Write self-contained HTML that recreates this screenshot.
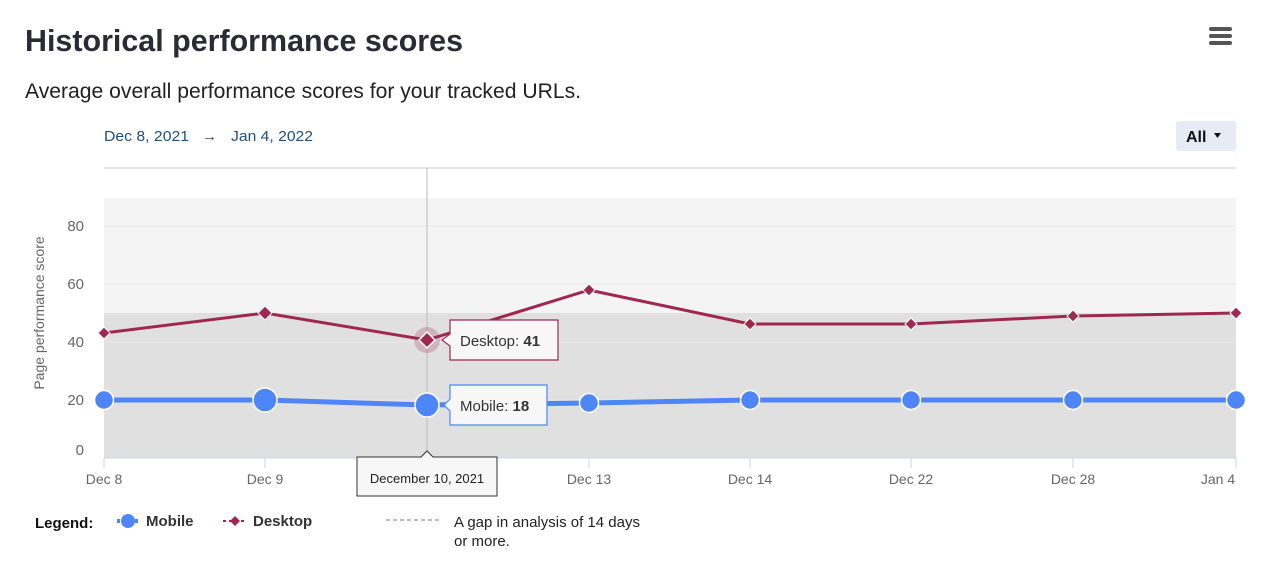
<!DOCTYPE html>
<html><head><meta charset="utf-8"><style>
body{margin:0;background:#fff;}
svg{display:block;font-family:"Liberation Sans",sans-serif;}
</style></head><body>
<svg width="1264" height="586" viewBox="0 0 1264 586" xmlns="http://www.w3.org/2000/svg">
<text x="25" y="51" font-size="31" font-weight="bold" fill="#2a2b35" textLength="438" lengthAdjust="spacingAndGlyphs">Historical performance scores</text>
<text x="25" y="98" font-size="21" fill="#222" textLength="556" lengthAdjust="spacingAndGlyphs">Average overall performance scores for your tracked URLs.</text>
<g fill="#555"><rect x="1209" y="27" width="23" height="4" rx="2"/><rect x="1209" y="34" width="23" height="4" rx="2"/><rect x="1209" y="41" width="23" height="4" rx="2"/></g>
<text x="104" y="141" font-size="15" fill="#1f4e82" textLength="85" lengthAdjust="spacingAndGlyphs">Dec 8, 2021</text>
<text x="202" y="141" font-size="15" fill="#444">→</text>
<text x="231" y="141" font-size="15" fill="#1f4e82" textLength="82" lengthAdjust="spacingAndGlyphs">Jan 4, 2022</text>
<rect x="1176" y="121" width="60" height="30" rx="3" fill="#e6ebf5"/>
<text x="1186" y="142" font-size="16" font-weight="bold" fill="#111">All</text>
<path d="M1214 133h7l-3.5 5z" fill="#111"/>
<!-- plot -->
<line x1="104" y1="168" x2="1236" y2="168" stroke="#e6e6e6" stroke-width="2"/>
<rect x="104" y="198" width="1132" height="115" fill="#f4f4f4"/>
<rect x="104" y="313" width="1132" height="145" fill="#e0e0e0"/>
<g stroke="#e8e8e8" stroke-width="1">
<line x1="104" y1="226" x2="1236" y2="226"/><line x1="104" y1="284" x2="1236" y2="284"/>
<line x1="104" y1="342" x2="1236" y2="342" stroke="#eaeaea"/><line x1="104" y1="400" x2="1236" y2="400" stroke="#eaeaea"/>
</g>
<line x1="104" y1="458" x2="1236" y2="458" stroke="#ccd6eb"/>
<g stroke="#ccd6eb"><line x1="104" y1="458" x2="104" y2="468"/><line x1="265" y1="458" x2="265" y2="468"/><line x1="589" y1="458" x2="589" y2="468"/><line x1="750" y1="458" x2="750" y2="468"/><line x1="911" y1="458" x2="911" y2="468"/><line x1="1073" y1="458" x2="1073" y2="468"/><line x1="1236" y1="458" x2="1236" y2="468"/></g>
<g font-size="15" fill="#666" text-anchor="end">
<text x="84" y="231">80</text><text x="84" y="289">60</text><text x="84" y="347">40</text><text x="84" y="405">20</text><text x="84" y="455">0</text>
</g>
<text transform="translate(44,313) rotate(-90)" font-size="14" fill="#666" text-anchor="middle">Page performance score</text>
<g font-size="14" fill="#666" text-anchor="middle">
<text x="104" y="484">Dec 8</text><text x="265" y="484">Dec 9</text><text x="589" y="484">Dec 13</text><text x="750" y="484">Dec 14</text><text x="911" y="484">Dec 22</text><text x="1073" y="484">Dec 28</text><text x="1218" y="484">Jan 4</text>
</g>
<line x1="427" y1="168" x2="427" y2="458" stroke="#bbb" stroke-width="1"/>
<!-- desktop -->
<polyline points="104,333 265,313 427,340 589,290 750,324 911,324 1073,316 1236,313" fill="none" stroke="#a0284f" stroke-width="3"/>
<g fill="#a0284f" stroke="#fff" stroke-width="1">
<path d="M104 327l6 6-6 6-6-6z"/><path d="M265 306l7 7-7 7-7-7z"/><path d="M589 284l6 6-6 6-6-6z"/><path d="M750 318l6 6-6 6-6-6z"/><path d="M911 318l6 6-6 6-6-6z"/><path d="M1073 310l6 6-6 6-6-6z"/><path d="M1236 307l6 6-6 6-6-6z"/>
</g>
<circle cx="427" cy="340" r="13" fill="#a0284f" opacity="0.25"/>
<path d="M427 332l8 8-8 8-8-8z" fill="#a0284f" stroke="#fff" stroke-width="1.5"/>
<!-- mobile -->
<polyline points="104,400 265,400 427,405 589,403 750,400 911,400 1073,400 1236,400" fill="none" stroke="#4f86f7" stroke-width="5"/>
<g fill="#4f86f7" stroke="#fff" stroke-width="1.5">
<circle cx="104" cy="400" r="9.5"/><circle cx="265" cy="400" r="12"/><circle cx="427" cy="405" r="12"/><circle cx="589" cy="403" r="9.5"/><circle cx="750" cy="400" r="9.5"/><circle cx="911" cy="400" r="9.5"/><circle cx="1073" cy="400" r="9.5"/><circle cx="1236" cy="400" r="9.5"/>
</g>
<!-- tooltips -->
<path d="M450 320h108v40h-108v-14l-8-6 8-6z" fill="#f7f7f7" stroke="#a0284f" stroke-width="1.2"/>
<text x="460" y="346" font-size="15" fill="#333">Desktop: <tspan font-weight="bold">41</tspan></text>
<path d="M450 385h97v40h-97v-14l-6-6 6-6z" fill="#f7f7f7" stroke="#4f86f7" stroke-width="1.2"/>
<text x="460" y="411" font-size="15" fill="#333">Mobile: <tspan font-weight="bold">18</tspan></text>
<path d="M357 457h64l6-6 6 6h64v39h-140z" fill="#f7f7f7" stroke="#333" stroke-width="1"/>
<text x="427" y="483" font-size="13" fill="#222" text-anchor="middle">December 10, 2021</text>
<!-- legend -->
<text x="35" y="528" font-size="15" font-weight="bold" fill="#111">Legend:</text>
<line x1="117" y1="521" x2="139" y2="521" stroke="#4f86f7" stroke-width="4" stroke-dasharray="3,3"/>
<circle cx="128" cy="521" r="7" fill="#4f86f7"/>
<text x="146" y="526" font-size="15" font-weight="bold" fill="#333">Mobile</text>
<line x1="223" y1="521" x2="246" y2="521" stroke="#a0284f" stroke-width="2" stroke-dasharray="3,3"/>
<path d="M235 516l5 5-5 5-5-5z" fill="#a0284f"/>
<text x="253" y="526" font-size="15" font-weight="bold" fill="#333">Desktop</text>
<line x1="386" y1="520" x2="442" y2="520" stroke="#777" stroke-width="1" stroke-dasharray="4,3"/>
<text x="454" y="527" font-size="15" fill="#222">A gap in analysis of 14 days</text>
<text x="454" y="546" font-size="15" fill="#222">or more.</text>
</svg>
</body></html>
